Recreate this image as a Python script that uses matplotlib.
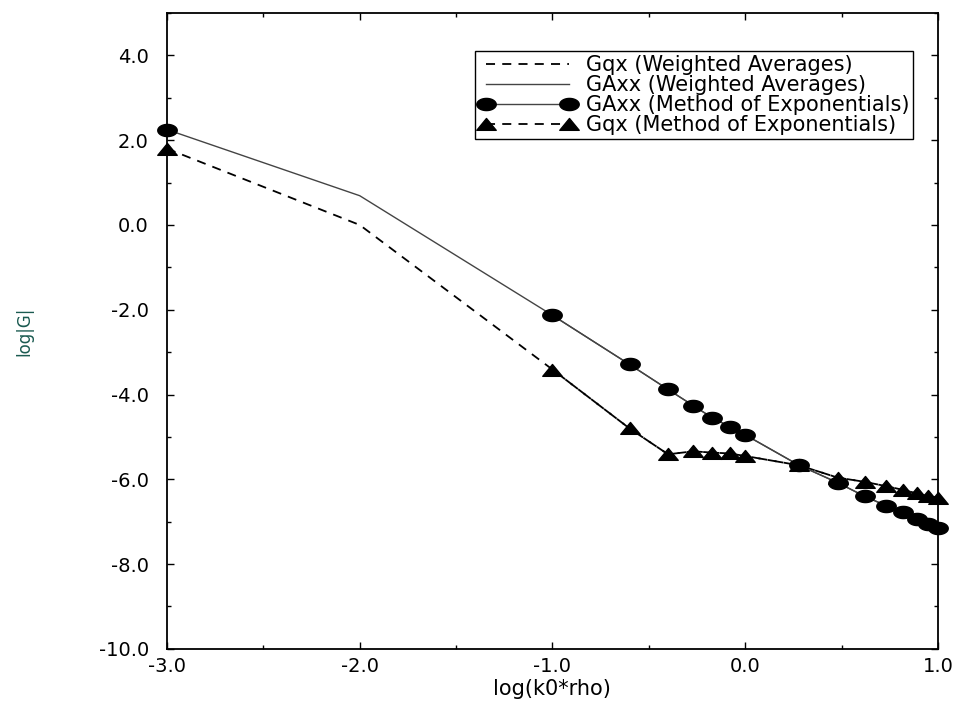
import matplotlib
matplotlib.use("Agg")
import matplotlib.pyplot as plt
import numpy as np
from matplotlib.path import Path
from matplotlib.lines import Line2D
from matplotlib.ticker import MultipleLocator, FormatStrFormatter

plt.rcParams['font.family'] = ['DejaVu Sans']

# log(k0*rho) sample positions
x_exp = [-3.0, -1.0, -0.6, -0.4, -0.27, -0.17, -0.08, 0.0,
         0.28, 0.48, 0.62, 0.73, 0.82, 0.89, 0.95, 1.0]
x_wa = [-3.0, -2.0] + x_exp[1:]

# GAxx, method of exponentials
gaxx_exp = [2.25, -2.13, -3.29, -3.88, -4.26, -4.55, -4.76, -4.95,
            -5.67, -6.08, -6.40, -6.62, -6.78, -6.94, -7.06, -7.16]
# Gqx, method of exponentials
gqx_exp = [1.80, -3.41, -4.80, -5.41, -5.34, -5.37, -5.39, -5.45,
           -5.67, -5.96, -6.06, -6.16, -6.25, -6.33, -6.40, -6.43]
# weighted averages (extra point at -2)
gaxx_wa = [2.25, 0.69] + gaxx_exp[1:]
gqx_wa = [1.80, 0.0] + gqx_exp[1:]

# wide elliptical / triangular marker shapes
t = np.linspace(0, 2 * np.pi, 60)
ellipse = Path(np.column_stack([1.6 * np.cos(t), np.sin(t)]), closed=True)
tri = Path([(-1.0, -0.6), (1.0, -0.6), (0.0, 0.62), (-1.0, -0.6)], closed=True)

dash = (0, (5, 4))
lw = 1.0

fig = plt.figure(figsize=(9.57, 7.03), dpi=100)
ax = fig.add_axes([0.1745, 0.077, 0.8055, 0.9045])

ax.plot(x_wa, gqx_wa, color='black', lw=1.3, linestyle=dash)
ax.plot(x_wa, gaxx_wa, color='#444444', lw=lw)

ax.plot(x_exp[1:], gaxx_exp[1:], color='#444444', lw=lw)
ax.plot(x_exp[1:], gqx_exp[1:], color='black', lw=1.3, linestyle=dash)
ax.plot(x_exp, gaxx_exp, linestyle='none', marker=ellipse, markersize=14,
        color='black', clip_on=False, zorder=5)
ax.plot(x_exp, gqx_exp, linestyle='none', marker=tri, markersize=14,
        color='black', clip_on=False, zorder=5)

ax.set_xlim(-3, 1)
ax.set_ylim(-10, 5)
ax.xaxis.set_major_locator(MultipleLocator(1.0))
ax.xaxis.set_minor_locator(MultipleLocator(0.5))
ax.yaxis.set_major_locator(MultipleLocator(2.0))
ax.yaxis.set_minor_locator(MultipleLocator(1.0))
ax.xaxis.set_major_formatter(FormatStrFormatter('%.1f'))
ax.yaxis.set_major_formatter(FormatStrFormatter('%.1f'))
ax.tick_params(which='both', direction='in', top=True, right=True,
               labelsize=14, width=1.0)
ax.tick_params(which='major', length=5)
ax.tick_params(which='minor', length=3)
ax.tick_params(axis='x', which='major', pad=6)
ax.tick_params(axis='y', which='major', pad=13)
for s in ax.spines.values():
    s.set_linewidth(1.3)

ax.set_xlabel('log(k0*rho)', fontsize=15, labelpad=2)
ax.set_ylabel('log|G|', fontsize=12, color='#1a5a50', labelpad=47)

handles = [
    Line2D([], [], color='black', lw=1.3, linestyle=dash),
    Line2D([], [], color='#444444', lw=lw),
    Line2D([], [], color='#444444', lw=lw, marker=ellipse, markersize=14,
           markerfacecolor='black', markeredgecolor='black'),
    Line2D([], [], color='black', lw=1.3, linestyle=dash, marker=tri,
           markersize=14, markerfacecolor='black', markeredgecolor='black'),
]
labels = ['Gqx (Weighted Averages)', 'GAxx (Weighted Averages)',
          'GAxx (Method of Exponentials)', 'Gqx (Method of Exponentials)']
leg = ax.legend(handles, labels, loc='upper right', bbox_to_anchor=(0.968, 0.940),
                numpoints=2, fontsize=15, handlelength=4.6, handletextpad=0.5,
                labelspacing=0.0, borderpad=0.2, borderaxespad=0.0,
                fancybox=False, framealpha=1, edgecolor='black')
leg.get_frame().set_linewidth(1.0)

fig.savefig('out.png', dpi=100)
